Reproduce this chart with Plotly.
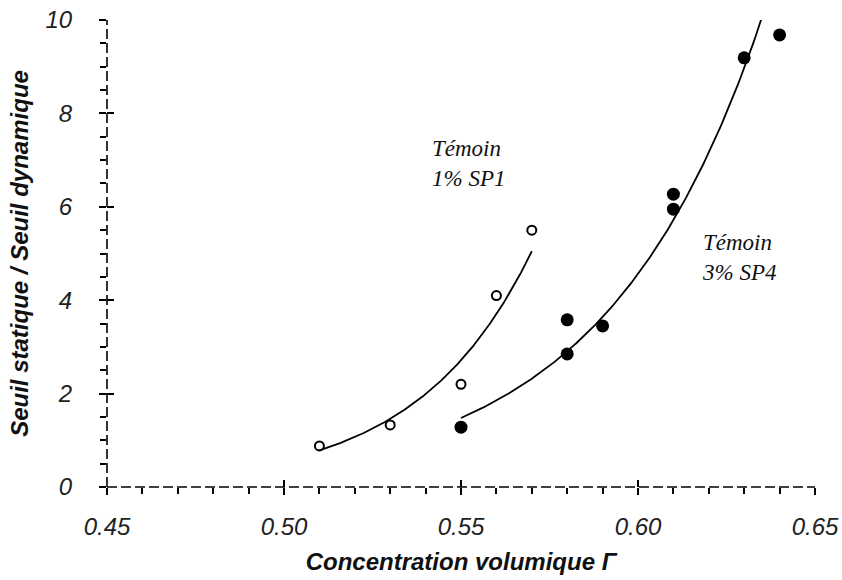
import numpy as np
import plotly.graph_objects as go

# ---- data ----
gamma_sp1 = [0.51, 0.53, 0.55, 0.56, 0.57]
ratio_sp1 = [0.88, 1.33, 2.20, 4.10, 5.50]

gamma_sp4 = [0.55, 0.58, 0.58, 0.59, 0.61, 0.61, 0.63, 0.64]
ratio_sp4 = [1.28, 3.58, 2.85, 3.45, 6.27, 5.95, 9.19, 9.68]

x_ticks = [0.45, 0.50, 0.55, 0.60, 0.65]
x_tick_labels = ["0.45", "0.50", "0.55", "0.60", "0.65"]
y_ticks = [0, 2, 4, 6, 8, 10]
y_tick_labels = ["0", "2", "4", "6", "8", "10"]

label_sp1 = "Témoin<br>1% SP1"
label_sp4 = "Témoin<br>3% SP4"
x_title = "Concentration volumique <i>Γ</i>"
y_title = "Seuil statique / Seuil dynamique"


def exp_trend(x, y, n=200):
    """Exponential trendline (least squares on log y), as in the original."""
    b, ln_a = np.polyfit(np.asarray(x), np.log(np.asarray(y)), 1)
    xs = np.linspace(min(x), max(x), n)
    return xs, np.exp(ln_a + b * xs)


fit1_x, fit1_y = exp_trend(gamma_sp1, ratio_sp1)
fit4_x, fit4_y = exp_trend(gamma_sp4, ratio_sp4)

fig = go.Figure()

fig.add_trace(go.Scatter(x=fit1_x, y=fit1_y, mode="lines",
                         line=dict(color="black", width=1.8),
                         showlegend=False, hoverinfo="skip"))
fig.add_trace(go.Scatter(x=fit4_x, y=fit4_y, mode="lines",
                         line=dict(color="black", width=1.8),
                         showlegend=False, hoverinfo="skip"))

fig.add_trace(go.Scatter(x=gamma_sp1, y=ratio_sp1, mode="markers",
                         marker=dict(symbol="circle-open", size=9,
                                     color="black", line=dict(width=2)),
                         name="Témoin 1% SP1", showlegend=False))
fig.add_trace(go.Scatter(x=gamma_sp4, y=ratio_sp4, mode="markers",
                         marker=dict(symbol="circle", size=13, color="black"),
                         name="Témoin 3% SP4", showlegend=False))

# invisible trace on the overlay axes (used to draw the inner half of major ticks)
fig.add_trace(go.Scatter(x=gamma_sp4, y=ratio_sp4, xaxis="x2", yaxis="y2",
                         mode="markers", marker=dict(opacity=0),
                         showlegend=False, hoverinfo="skip"))

tick_font = dict(family="Liberation Sans, Arial", size=24, color="#222",
                 style="italic")
title_font = dict(family="Liberation Sans, Arial", size=24, color="#111",
                  style="italic", weight="bold")

fig.update_layout(
    width=842, height=580,
    margin=dict(l=107, r=27, t=20, b=93),
    paper_bgcolor="white", plot_bgcolor="white",
    xaxis=dict(range=[0.45, 0.65], tickvals=x_ticks, ticktext=x_tick_labels,
               ticks="outside", ticklen=7, tickwidth=1.5, tickcolor="black",
               minor=dict(dtick=0.01, ticks="outside", ticklen=6,
                          tickwidth=1.5, tickcolor="black", showgrid=False),
               showgrid=False, zeroline=False, showline=False, automargin=False,
               tickfont=tick_font, ticklabelstandoff=11,
               ticklabeloverflow="allow",
               title=dict(text=x_title, font=title_font, standoff=14)),
    yaxis=dict(range=[0, 10], tickvals=y_ticks, ticktext=y_tick_labels,
               ticks="outside", ticklen=7, tickwidth=1.5, tickcolor="black",
               minor=dict(dtick=0.5, ticks="outside", ticklen=6,
                          tickwidth=1.5, tickcolor="black", showgrid=False),
               showgrid=False, zeroline=False, showline=False, automargin=False,
               tickfont=tick_font, ticklabelstandoff=22,
               ticklabeloverflow="allow",
               title=dict(text=y_title, font=title_font, standoff=10)),
    xaxis2=dict(range=[0.45, 0.65], overlaying="x", anchor="y",
                tickvals=x_ticks, ticks="inside", ticklen=7, tickwidth=1.5,
                tickcolor="black", showticklabels=False, showgrid=False,
                zeroline=False, showline=False, automargin=False),
    yaxis2=dict(range=[0, 10], overlaying="y", anchor="x", side="left",
                tickvals=y_ticks, ticks="inside", ticklen=7, tickwidth=1.5,
                tickcolor="black", showticklabels=False, showgrid=False,
                zeroline=False, showline=False, automargin=False),
    shapes=[
        dict(type="line", xref="paper", yref="paper", x0=0, x1=1, y0=0, y1=0,
             line=dict(color="black", width=1.6, dash="10px,4px")),
        dict(type="line", xref="paper", yref="paper", x0=0, x1=0, y0=0, y1=1,
             line=dict(color="black", width=1.6, dash="10px,4px")),
    ],
    annotations=[
        dict(x=0.5412, y=6.93, xref="x", yref="y", text="<i>" + label_sp1 + "</i>",
             showarrow=False, xanchor="left", yanchor="middle", align="left",
             font=dict(family="Liberation Serif, Times New Roman", size=23,
                       color="#111")),
        dict(x=0.6175, y=4.91, xref="x", yref="y", text="<i>" + label_sp4 + "</i>",
             showarrow=False, xanchor="left", yanchor="middle", align="left",
             font=dict(family="Liberation Serif, Times New Roman", size=23,
                       color="#111")),
    ],
)

# remove the default 8px page margin so the figure fills the window exactly
fig.write_html("out.html",
               config={"displayModeBar": False},
               post_script="document.body.style.margin='0';"
                           "document.body.style.overflow='hidden';")
